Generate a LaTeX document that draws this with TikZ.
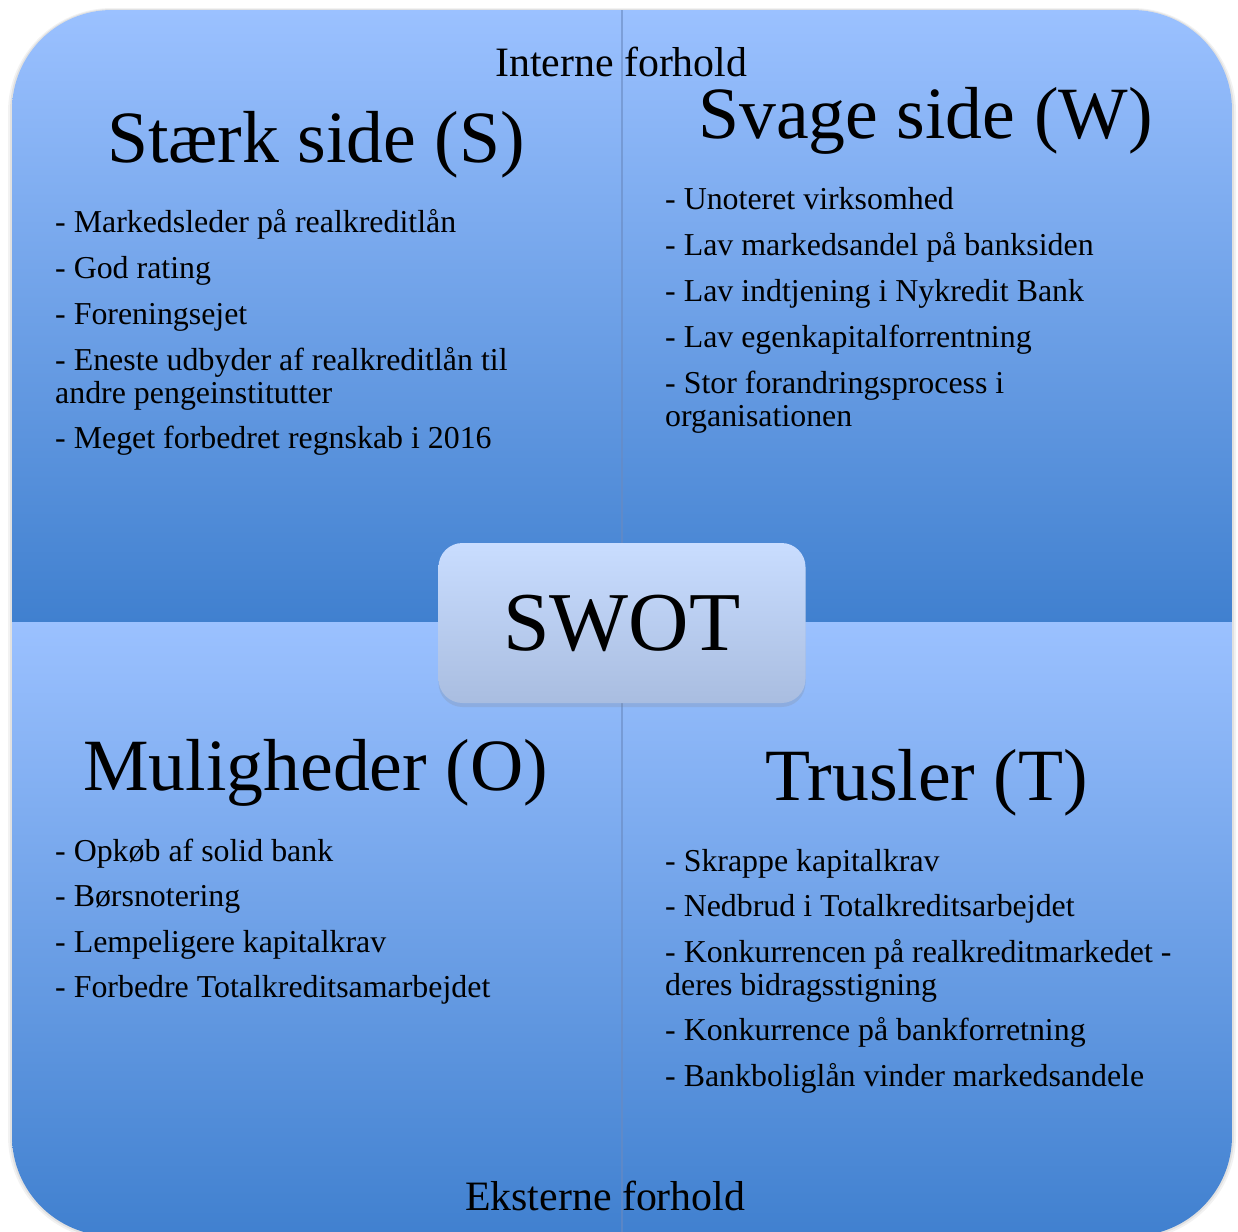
\documentclass[tikz,border=0pt]{standalone}
\usepackage{fontspec}
\setmainfont{Liberation Serif}
\usetikzlibrary{shadows}
\definecolor{quadtop}{HTML}{9BC1FF}
\definecolor{quadmid}{HTML}{78A6EA}
\definecolor{quadbot}{HTML}{4080CF}
\definecolor{swottop}{HTML}{C9DDFF}
\definecolor{swotbot}{HTML}{A9BDE0}
\definecolor{divline}{HTML}{6A8AC0}

\begin{document}
\begin{tikzpicture}[x=1bp, y=-1bp,
    quadhead/.style={font=\fontsize{74}{80}\selectfont, inner sep=0pt, anchor=base west},
    item/.style={font=\fontsize{32}{33}\selectfont, inner sep=0pt, anchor=base west, align=left},
    axislabel/.style={font=\fontsize{42}{46}\selectfont, inner sep=0pt, anchor=base west},
    quadfill/.style={top color=quadtop, middle color=quadmid, bottom color=quadbot},
    swotbox/.style={rounded corners=24bp, minimum width=367bp, minimum height=160bp, top color=swottop, bottom color=swotbot, drop shadow={opacity=.2, shadow xshift=0bp, shadow yshift=-4bp}, font=\fontsize{84}{90}\selectfont}]
  \useasboundingbox (0,0) rectangle (1238,1232);

  % frame with a soft edge
  \fill[black, opacity=.05, rounded corners=104bp] (8,8) rectangle (1236,1240);
  \fill[black, opacity=.07, rounded corners=102bp] (10,9) rectangle (1234,1238);
  \begin{scope}
    \clip[rounded corners=100bp] (12,10) rectangle (1232,1236);
    \shade[quadfill] (12,10) rectangle (1232,622);
    \shade[quadfill] (12,622) rectangle (1232,1236);
  \end{scope}
  \coordinate (topmid) at (622,10);
  \coordinate (botmid) at (622,1236);
  \draw[divline, line width=1.2bp, opacity=.6] (topmid) -- (botmid);

  % axis labels
  \node[axislabel] (intern) at (495,76) {Interne forhold};
  \node[axislabel] (extern) at (465,1210) {Eksterne forhold};

  % strengths (two-line items sit on their last line)
  \node[quadhead] (sHead) at (107,162) {Stærk side (S)};
  \node[item] (s1) at (55,232) {- Markedsleder på realkreditlån};
  \node[item] (s2) at (55,278) {- God rating};
  \node[item] (s3) at (55,324) {- Foreningsejet};
  \node[item] (s4) at (55,403) {- Eneste udbyder af realkreditlån til\\andre pengeinstitutter};
  \node[item] (s5) at (55,448) {- Meget forbedret regnskab i 2016};

  % weaknesses
  \node[quadhead] (wHead) at (698,138) {Svage side (W)};
  \node[item] (w1) at (665,209) {- Unoteret virksomhed};
  \node[item] (w2) at (665,255) {- Lav markedsandel på banksiden};
  \node[item] (w3) at (665,301) {- Lav indtjening i Nykredit Bank};
  \node[item] (w4) at (665,347) {- Lav egenkapitalforrentning};
  \node[item] (w5) at (665,426) {- Stor forandringsprocess i\\organisationen};

  % opportunities
  \node[quadhead] (oHead) at (83,790) {Muligheder (O)};
  \node[item] (o1) at (55,861) {- Opkøb af solid bank};
  \node[item] (o2) at (55,906) {- Børsnotering};
  \node[item] (o3) at (55,952) {- Lempeligere kapitalkrav};
  \node[item] (o4) at (55,997) {- Forbedre Totalkreditsamarbejdet};

  % threats
  \node[quadhead] (tHead) at (765,800) {Trusler (T)};
  \node[item] (t1) at (665,871) {- Skrappe kapitalkrav};
  \node[item] (t2) at (665,916) {- Nedbrud i Totalkreditsarbejdet};
  \node[item] (t3) at (665,995) {- Konkurrencen på realkreditmarkedet -\\deres bidragsstigning};
  \node[item] (t4) at (665,1040) {- Konkurrence på bankforretning};
  \node[item] (t5) at (665,1086) {- Bankboliglån vinder markedsandele};

  % centre
  \node[swotbox] (swot) at (622,623) {SWOT};
\end{tikzpicture}
\end{document}
